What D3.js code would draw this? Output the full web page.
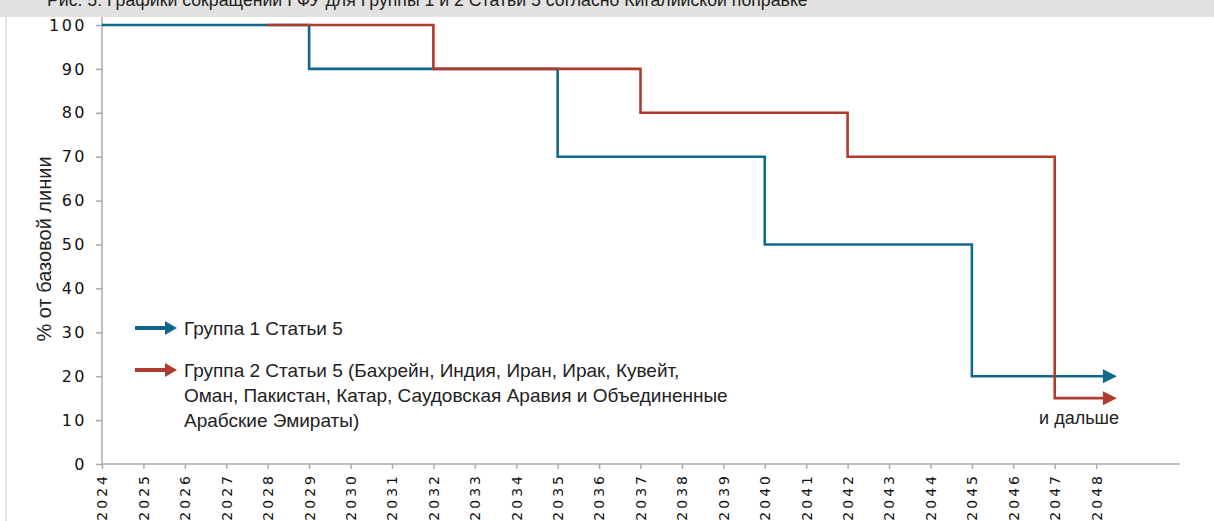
<!DOCTYPE html>
<html><head><meta charset="utf-8">
<script src="https://cdn.jsdelivr.net/npm/d3@7/dist/d3.min.js"></script>
<style>
html,body{margin:0;padding:0;background:#fff;}
svg{display:block;}
</style></head>
<body>
<svg id="c" width="1214" height="521"></svg>
<script>
const title = "Рис. 5: Графики сокращений ГФУ для Группы 1 и 2 Статьи 5 согласно Кигалийской поправке";
const yTicks = [0, 10, 20, 30, 40, 50, 60, 70, 80, 90, 100];
const xTicks = d3.range(2024, 2049);
const group1Years = [2024, 2029, 2035, 2040, 2045, 2048.5];
const group1Values = [100, 90, 70, 50, 20, 20];
const group2Years = [2028, 2032, 2037, 2042, 2047, 2048.5];
const group2Values = [100, 90, 80, 70, 15, 15];
const legendLabels = ["Группа 1 Статьи 5",
  ["Группа 2 Статьи 5 (Бахрейн, Индия, Иран, Ирак, Кувейт,",
   "Оман, Пакистан, Катар, Саудовская Аравия и Объединенные",
   "Арабские Эмираты)"]];
const yTitle = "% от базовой линии";
const note = "и дальше";

const blue = "#10698a", red = "#b03a2e", axisCol = "#aaaaaa";
const svg = d3.select("#c");

// header band
svg.append("rect").attr("x",0).attr("y",0).attr("width",1214).attr("height",17).attr("fill","#e3e2e0");
svg.append("text").attr("x",47).attr("y",6)
  .attr("font-family","Liberation Sans, Arial, sans-serif").attr("font-size",17.7).attr("fill","#222")
  .text(title);
// left panel border
svg.append("rect").attr("x",5).attr("y",17).attr("width",2).attr("height",504).attr("fill","#e4e4e4");

const x = d3.scaleLinear().domain([2024, 2050]).range([102, 1179]);
const y = d3.scaleLinear().domain([0, 100]).range([464, 25]);

// y axis
const ya = svg.append("g").attr("transform","translate(102,0)")
  .call(d3.axisLeft(y).tickValues(yTicks).tickSize(6).tickPadding(9).tickSizeOuter(0));
ya.select(".domain").remove();
svg.append("line").attr("x1",102).attr("x2",102).attr("y1",17).attr("y2",464).attr("stroke",axisCol).attr("stroke-width",1.5);
ya.selectAll(".tick line").attr("stroke",axisCol).attr("stroke-width",1.5);
ya.selectAll(".tick text").attr("font-family","DejaVu Sans, sans-serif").attr("font-size",16)
  .attr("fill","#111").attr("letter-spacing","2.5px");

// x axis
const xa = svg.append("g").attr("transform","translate(0,464)")
  .call(d3.axisBottom(x).tickValues(xTicks).tickFormat(d3.format("d")).tickSize(5).tickSizeOuter(0));
xa.select(".domain").remove();
svg.append("line").attr("x1",102).attr("x2",1180).attr("y1",464).attr("y2",464).attr("stroke",axisCol).attr("stroke-width",1.5);
xa.selectAll(".tick line").attr("stroke",axisCol).attr("stroke-width",1.5);
xa.selectAll(".tick text")
  .attr("font-family","DejaVu Sans, sans-serif").attr("font-size",14).attr("fill","#111")
  .attr("letter-spacing","3px")
  .attr("transform","rotate(-90)").attr("text-anchor","end").attr("dy","0.35em")
  .attr("x",-9).attr("y",0);

// y title
svg.append("text").attr("transform","translate(51,249) rotate(-90)").attr("text-anchor","middle")
  .attr("font-family","Liberation Sans, Arial, sans-serif").attr("font-size",20).attr("fill","#222")
  .text(yTitle);

// arrowhead helper
function arrowHead(xEnd, yc, color, len, half){
  svg.append("path").attr("d",`M${xEnd},${yc} L${xEnd-len},${yc-half} L${xEnd-len},${yc+half} Z`).attr("fill",color);
}

const line = d3.line().x(d=>x(d[0])).y(d=>y(d[1])).curve(d3.curveStepAfter);
function series(years, vals, color){
  const pts = years.map((yr,i)=>[yr, vals[i]]);
  const last = pts[pts.length-1];
  const xe = x(last[0]);
  const ptsShort = pts.slice(0,-1).concat([[x.invert(xe-12), last[1]]]);
  svg.append("path").attr("d", line(ptsShort)).attr("fill","none").attr("stroke",color).attr("stroke-width",2.6);
  arrowHead(xe, y(last[1]), color, 14, 7);
}
series(group1Years, group1Values, blue);
series(group2Years, group2Values, red);

svg.append("text").attr("x",1119).attr("y",424).attr("text-anchor","end")
  .attr("font-family","Liberation Sans, Arial, sans-serif").attr("font-size",18).attr("fill","#222").text(note);

// legend
function legendArrow(yc, color){
  svg.append("line").attr("x1",135).attr("x2",166).attr("y1",yc).attr("y2",yc).attr("stroke",color).attr("stroke-width",4);
  arrowHead(177, yc, color, 12, 7);
}
legendArrow(328, blue);
legendArrow(370, red);
const lf = svg.append("g").attr("font-family","Liberation Sans, Arial, sans-serif").attr("font-size",19).attr("fill","#222");
lf.append("text").attr("x",184).attr("y",335).text(legendLabels[0]);
legendLabels[1].forEach((t,i)=>{
  lf.append("text").attr("x",184).attr("y",377+i*25).text(t);
});
</script>
</body></html>
